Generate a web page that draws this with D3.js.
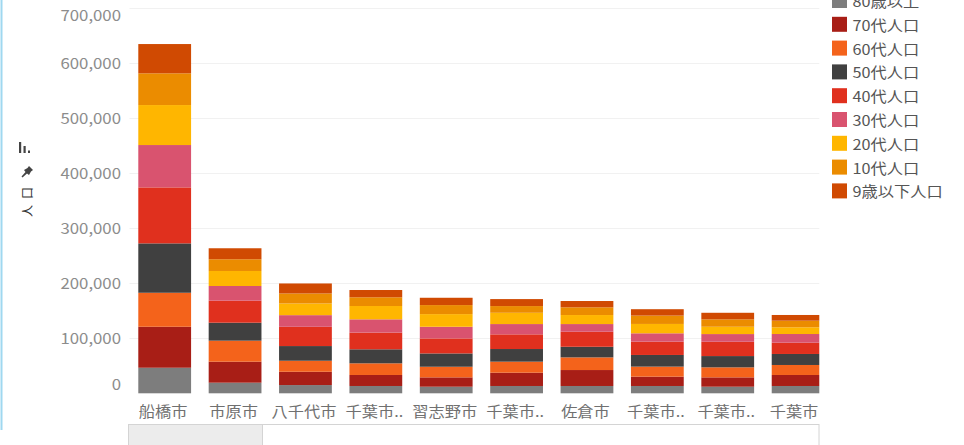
<!DOCTYPE html>
<html>
<head>
<meta charset="utf-8">
<script src="https://cdn.jsdelivr.net/npm/d3@7"></script>
<style>
  html, body { margin: 0; padding: 0; background: #fff; }
  svg { display: block; font-family: "Noto Sans CJK JP", "Noto Sans", sans-serif; }
</style>
</head>
<body>
<svg id="chart" width="964" height="445"></svg>
<script>
// Population by age group for cities in Chiba prefecture
const cityLabels = ["船橋市", "市原市", "八千代市", "千葉市..", "習志野市", "千葉市..", "佐倉市", "千葉市..", "千葉市..", "千葉市"];

const ageGroups = ["80歳以上", "70代人口", "60代人口", "50代人口", "40代人口", "30代人口", "20代人口", "10代人口", "9歳以下人口"];

const pop80plus = [46500, 19300, 15000, 13300, 12000, 13300, 13300, 13300, 12000, 13300];
const pop70s    = [74500, 38200, 24200, 20000, 17000, 24200, 29000, 17000, 17000, 20000];
const pop60s    = [61800, 38200, 20000, 21200, 19300, 20000, 23000, 18200, 18200, 18200];
const pop50s    = [89800, 32700, 26700, 25500, 24200, 23000, 19300, 21200, 20500, 20000];
const pop40s    = [101800, 40000, 35000, 30300, 27300, 26700, 27300, 24200, 26000, 20500];
const pop30s    = [77000, 26700, 21200, 24200, 21200, 18700, 14000, 15200, 14000, 15800];
const pop20s    = [72700, 27300, 21200, 24200, 23000, 20500, 16400, 17000, 13300, 12200];
const pop10s    = [57600, 21300, 18200, 15800, 16400, 12200, 14000, 15200, 13400, 12000];
const pop0to9   = [53300, 20000, 18200, 13300, 13300, 12700, 11500, 11600, 12000, 10400];

const yTicks = [0, 100000, 200000, 300000, 400000, 500000, 600000, 700000];

const groupColors = ["#7d7d7d", "#a81e16", "#f4631b", "#404040", "#e0301e", "#d9536f", "#ffb600", "#eb8c00", "#d04a02"];

const seriesValues = [pop80plus, pop70s, pop60s, pop50s, pop40s, pop30s, pop20s, pop10s, pop0to9];

// Build row table for the stack layout
const rows = cityLabels.map((c, i) => {
  const r = { idx: i };
  ageGroups.forEach((g, k) => { r[g] = seriesValues[k][i]; });
  return r;
});

const svg = d3.select("#chart");
const stretch = 1.12;

const plotLeft = 129.5, plotRight = 819.3;
const x = d3.scaleBand()
  .domain(d3.range(cityLabels.length))
  .range([129.5, 833.3])
  .paddingInner(0.25)
  .paddingOuter(0.125);

const y = d3.scaleLinear().domain([0, 100000]).range([393.3, 338.3]);

const color = d3.scaleOrdinal().domain(ageGroups).range(groupColors);

// left accent line
svg.append("rect").attr("x", 0.5).attr("y", 0).attr("width", 2).attr("height", 430).attr("fill", "#9fd8f0");

// clip for plot area
svg.append("defs").append("clipPath").attr("id", "plotclip")
  .append("rect").attr("x", plotLeft).attr("y", 0).attr("width", plotRight - plotLeft).attr("height", 400);

// gridlines
svg.append("g").selectAll("line").data(yTicks.slice(1)).join("line")
  .attr("x1", plotLeft).attr("x2", plotRight)
  .attr("y1", d => Math.round(y(d)) + 0.5).attr("y2", d => Math.round(y(d)) + 0.5)
  .attr("stroke", "#f1f1f1").attr("stroke-width", 1);

// stacked bars
const stack = d3.stack().keys(ageGroups);
const layers = stack(rows);

svg.append("g").attr("clip-path", "url(#plotclip)")
  .selectAll("g").data(layers).join("g")
  .attr("fill", d => color(d.key))
  .selectAll("rect").data(d => d).join("rect")
  .attr("x", d => x(d.data.idx))
  .attr("width", x.bandwidth())
  .attr("y", d => y(d[1]))
  .attr("height", d => y(d[0]) - y(d[1]));

// y-axis tick labels (kept inside the view at the ends)
const fmt = d3.format(",");
svg.append("g").selectAll("text").data(yTicks).join("text")
  .attr("transform", d => `translate(121,${Math.min(384, Math.max(14.5, y(d)))}) scale(${stretch},1)`)
  .attr("text-anchor", "end")
  .attr("dominant-baseline", "central")
  .attr("font-size", 15)
  .attr("fill", "#8c8c8c")
  .text(d => fmt(d));

// y-axis title with sort / pin icons
svg.append("text")
  .attr("transform", "translate(26,199) rotate(-90)")
  .attr("text-anchor", "middle")
  .attr("dominant-baseline", "central")
  .attr("font-size", 12)
  .attr("letter-spacing", 6)
  .attr("fill", "#333")
  .text("人口");
const icon = svg.append("g").attr("fill", "#444");
icon.append("rect").attr("x", 19).attr("y", 142).attr("width", 2.2).attr("height", 11);
icon.append("rect").attr("x", 23.5).attr("y", 146).attr("width", 2.2).attr("height", 7);
icon.append("rect").attr("x", 28).attr("y", 150.5).attr("width", 2).attr("height", 2.5);
icon.append("path").attr("d", "M29,166 L33,170 L31,171.5 L29,175 L27,173.5 L22.5,177.5 L21.5,176.5 L25.5,172 L24,170 L27.5,168 Z");

// category labels
svg.append("g").selectAll("text").data(cityLabels).join("text")
  .attr("transform", (d, i) => {
    const x0 = x(i), x1 = Math.min(x(i) + x.bandwidth(), plotRight);
    return `translate(${(x0 + x1) / 2 - 1.5},410) scale(${stretch},1)`;
  })
  .attr("text-anchor", "middle")
  .attr("dominant-baseline", "central")
  .attr("font-size", 14.5)
  .attr("fill", "#707070")
  .text(d => d);

// lower strip
svg.append("rect").attr("x", 128.5).attr("y", 424.5).attr("width", 690.5).attr("height", 30)
  .attr("fill", "#fff").attr("stroke", "#d4d4d4");
svg.append("rect").attr("x", 129).attr("y", 425).attr("width", 133.5).attr("height", 30)
  .attr("fill", "#ececec");
svg.append("line").attr("x1", 262.5).attr("x2", 262.5).attr("y1", 424.5).attr("y2", 445)
  .attr("stroke", "#d4d4d4");

// legend (80歳以上 first, partly above the top edge)
const legend = svg.append("g").selectAll("g").data(ageGroups).join("g")
  .attr("transform", (d, i) => `translate(832,${0.5 + 23.8 * i})`);
legend.append("rect").attr("x", 0).attr("y", -7.5).attr("width", 15).attr("height", 15)
  .attr("fill", d => color(d));
legend.append("text")
  .attr("transform", `translate(20.5,0) scale(${stretch},1)`)
  .attr("dominant-baseline", "central")
  .attr("font-size", 14.5)
  .attr("fill", "#555")
  .text(d => d);
</script>
</body>
</html>
